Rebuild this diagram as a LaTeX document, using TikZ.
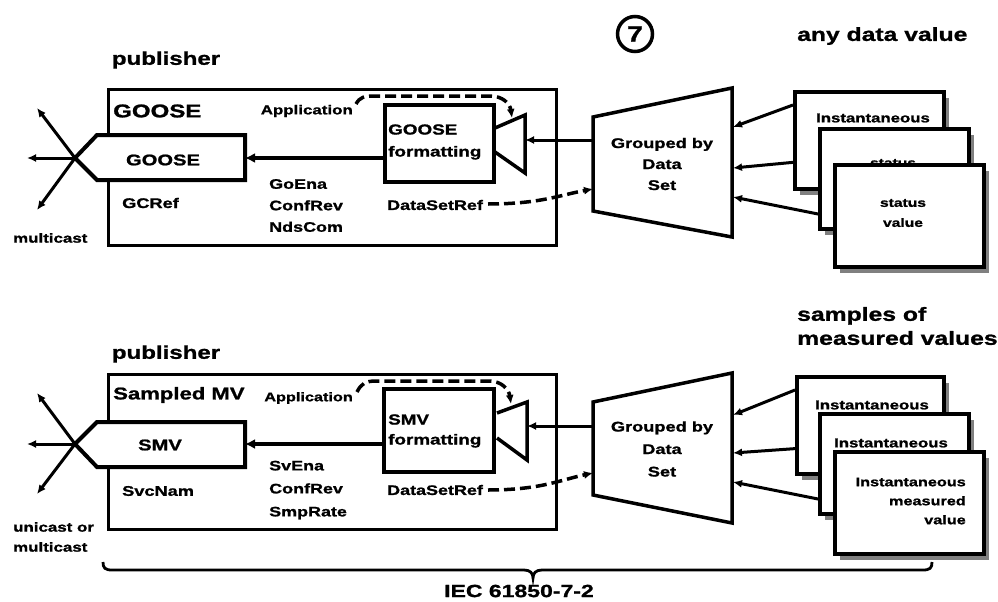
\documentclass[tikz,border=0pt]{standalone}
\usepackage{fontspec}
\newfontfamily\diafont[FakeStretch=1.3,FakeBold=1.2]{Liberation Sans}
\usetikzlibrary{arrows.meta}
\tikzset{
  fs/.style 2 args={inner sep=0pt, font=\diafont\bfseries\fontsize{#1}{#2}\selectfont},
  outerbox/.style={draw, line width=3pt, inner sep=0pt},
  pentagon/.style={draw, line width=4pt, fill=white, line join=miter},
  fmtbox/.style={draw, line width=3.5pt, fill=white, inner sep=0pt},
  card/.style={draw, line width=4pt, fill=white, inner sep=0pt},
  shad/.style={fill=black!50},
  horn/.style={draw, line width=3.5pt, line join=miter},
  trap/.style={draw, line width=3.5pt, line join=miter, fill=white},
  thinarr/.style={line width=3pt, -{Latex[length=9pt,width=8pt]}},
  thickarr/.style={line width=4.5pt, -{Latex[length=10pt,width=10pt]}},
  dasharr/.style={line width=3.5pt, dash pattern=on 11pt off 5pt, -{Latex[length=9pt,width=8pt]}},
}
\begin{document}
\begin{tikzpicture}[x=1pt,y=-1pt]
\useasboundingbox (0,0) rectangle (998,602);

% ================= TOP =================
\node[fs={18.5}{18.5}] (tpubl) at (166,60) {publisher};
\node[outerbox, minimum width=448pt, minimum height=156pt, anchor=north west] (tbox) at (107,88) {};
\node[fs={18.5}{18.5}, anchor=west] (tgooselbl) at (113,111) {GOOSE};
\node[fs={13}{13}, anchor=east] (tapp) at (353,111) {Application};
\node[fs={14}{14}, anchor=west] (tgcref) at (122,203) {GCRef};
\node[fs={13.8}{21.5}, align=left, anchor=west] (tgoena) at (269,205.5) {GoEna\\ConfRev\\NdsCom};
\node[fs={13.8}{13.8}, anchor=west] (tdsr) at (387,205) {DataSetRef};

% pentagon message
\coordinate (ttip) at (75,158);
\draw[pentagon] (ttip) -- (97,135) -- (245,135) -- (245,180) -- (97,180) -- cycle;
\node[fs={15.5}{15.5}] (tgoose) at (163,160) {GOOSE};
\coordinate (tmsgE) at (245,158);
\coordinate (tul) at (37,108);
\coordinate (tl) at (27,158);
\coordinate (tdl) at (37,210);
\draw[thinarr] (ttip) -- (tul);
\draw[thinarr] (ttip) -- (tl);
\draw[thinarr] (ttip) -- (tdl);
\node[fs={13}{13}, anchor=west] (tmc) at (13,238) {multicast};

% formatting box
\node[fmtbox, minimum width=109pt, minimum height=77pt, anchor=north west] (tfmt) at (383,103) {};
\node[fs={14.5}{22}, align=left, anchor=west] (tfmttxt) at (388,142) {GOOSE\\formatting};
\draw[thickarr] (tfmt.west |- tmsgE) -- (tmsgE);

% horn
\coordinate (thornT) at (525,115);
\coordinate (thornB) at (525,173);
\draw[horn] (495,128) -- (thornT) -- (thornB) -- (495,152);
\coordinate (thornIn) at (525,140);

% application dashed
\coordinate (tappE) at (356,104);
\coordinate (thornTop) at (512,118);
\draw[dasharr] (tappE) .. controls (360,97) and (364,96) .. (375,96) -- (490,96) .. controls (503,96) and (510,104) .. (thornTop);

% trapezoid
\coordinate (tgA) at (593,117);
\coordinate (tgB) at (732,88);
\coordinate (tgC) at (732,237);
\coordinate (tgD) at (593,211);
\draw[trap] (tgA) -- (tgB) -- (tgC) -- (tgD) -- cycle;
\node[fs={14}{21}, align=center] (tgrp) at (662,164) {Grouped by\\Data\\Set};
\draw[thinarr] (593,140) -- (thornIn);
\coordinate (tdsrE) at (488,204);
\draw[dasharr] (tdsrE) .. controls (540,204) and (560,195) .. (593,189);

% right side
\node[circle, draw, line width=3.5pt, minimum size=35pt, inner sep=0pt, fs={22}{22}] (seven) at (635,34) {7};
\node[fs={19}{19}, anchor=west] (tany) at (797,36) {any data value};

\draw[thinarr] (793,105) -- (733,127);
\draw[thinarr] (818,160) -- (733,168);
\draw[thinarr] (833,217) -- (733,197);

\fill[shad] (800,98) rectangle (949,195);
\node[card, minimum width=149pt, minimum height=97pt, anchor=north west] (tc1) at (793,90) {};
\node[fs={12.9}{12.9}] (tc1t) at (873,118) {Instantaneous};
\fill[shad] (825,135) rectangle (974,235);
\node[card, minimum width=149pt, minimum height=100pt, anchor=north west] (tc2) at (818,127) {};
\node[fs={12}{12}] (tc2t) at (893,163) {status};
\fill[shad] (840,171) rectangle (989,273);
\node[card, minimum width=149pt, minimum height=102pt, anchor=north west] (tc3) at (833,163) {};
\node[fs={12}{20}, align=center] (tc3t) at (903,213) {status\\value};

% ================= BOTTOM =================
\node[fs={18.5}{18.5}] (bpubl) at (166,354) {publisher};
\node[outerbox, minimum width=448pt, minimum height=155pt, anchor=north west] (bbox) at (107,373) {};
\node[fs={17}{17}, anchor=west] (bsmvlbl) at (113,395) {Sampled MV};
\node[fs={12.5}{12.5}, anchor=east] (bapp) at (353,398) {Application};
\node[fs={14}{14}, anchor=west] (bsvc) at (122,491) {SvcNam};
\node[fs={13.8}{23}, align=left, anchor=west] (bsvena) at (269,490) {SvEna\\ConfRev\\SmpRate};
\node[fs={13.8}{13.8}, anchor=west] (bdsr) at (387,490) {DataSetRef};

\coordinate (btip) at (75,444);
\draw[pentagon] (btip) -- (97,422) -- (245,422) -- (245,467) -- (97,467) -- cycle;
\node[fs={15.5}{15.5}] (bsmv) at (160,445) {SMV};
\coordinate (bmsgE) at (245,444);
\coordinate (bul) at (37,393);
\coordinate (bl) at (27,444);
\coordinate (bdl) at (37,494);
\draw[thinarr] (btip) -- (bul);
\draw[thinarr] (btip) -- (bl);
\draw[thinarr] (btip) -- (bdl);
\node[fs={13}{20}, align=left, anchor=west] (buc) at (13,537) {unicast or\\multicast};

\node[fmtbox, minimum width=110pt, minimum height=83pt, anchor=north west] (bfmt) at (382,387) {};
\node[fs={14.5}{20}, align=left, anchor=west] (bfmttxt) at (388,431) {SMV\\formatting};
\draw[thickarr] (bfmt.west |- bmsgE) -- (bmsgE);

\coordinate (bhornT) at (527,402);
\coordinate (bhornB) at (527,460);
\draw[horn] (497,413) -- (bhornT) -- (bhornB) -- (497,438);
\coordinate (bhornIn) at (527,426);

\coordinate (bappE) at (357,392);
\coordinate (bhornTop) at (511,404);
\draw[dasharr] (bappE) .. controls (361,384) and (365,381) .. (376,381) -- (489,381) .. controls (502,381) and (509,390) .. (bhornTop);

\coordinate (bgA) at (593,402);
\coordinate (bgB) at (732,373);
\coordinate (bgC) at (732,523);
\coordinate (bgD) at (593,495);
\draw[trap] (bgA) -- (bgB) -- (bgC) -- (bgD) -- cycle;
\node[fs={14}{22.5}, align=center] (bgrp) at (662,449) {Grouped by\\Data\\Set};
\draw[thinarr] (593,426) -- (bhornIn);
\coordinate (bdsrE) at (488,490);
\draw[dasharr] (bdsrE) .. controls (540,490) and (560,480) .. (593,473);

\node[fs={19}{24}, align=left, anchor=west] (bsamp) at (797,326) {samples of\\measured values};

\draw[thinarr] (795,390) -- (733,415);
\draw[thinarr] (818,447) -- (733,453);
\draw[thinarr] (833,502) -- (733,482);

\fill[shad] (802,383) rectangle (949,480);
\node[card, minimum width=147pt, minimum height=97pt, anchor=north west] (bc1) at (795,375) {};
\node[fs={12.9}{12.9}] (bc1t) at (872,405) {Instantaneous};
\fill[shad] (825,420) rectangle (974,520);
\node[card, minimum width=149pt, minimum height=100pt, anchor=north west] (bc2) at (818,412) {};
\node[fs={12.9}{12.9}] (bc2t) at (891,443) {Instantaneous};
\fill[shad] (840,458) rectangle (989,560);
\node[card, minimum width=149pt, minimum height=102pt, anchor=north west] (bc3) at (833,450) {};
\node[fs={12.5}{19}, align=right, anchor=east] (bc3t) at (966,501) {Instantaneous\\measured\\value};

% brace
\coordinate (brL) at (103,562);
\coordinate (brR) at (932,562);
\coordinate (brM) at (533,578);
\draw[line width=2.8pt] (brL) .. controls (103,568) and (105,570) .. (112,570) -- (524,570)
  .. controls (530,570) and (533,573) .. (brM) .. controls (533,573) and (536,570) .. (542,570)
  -- (923,570) .. controls (930,570) and (932,568) .. (brR);
\node[fs={17.7}{17.7}] (iec) at (519,591) {IEC 61850-7-2};
\end{tikzpicture}
\end{document}
